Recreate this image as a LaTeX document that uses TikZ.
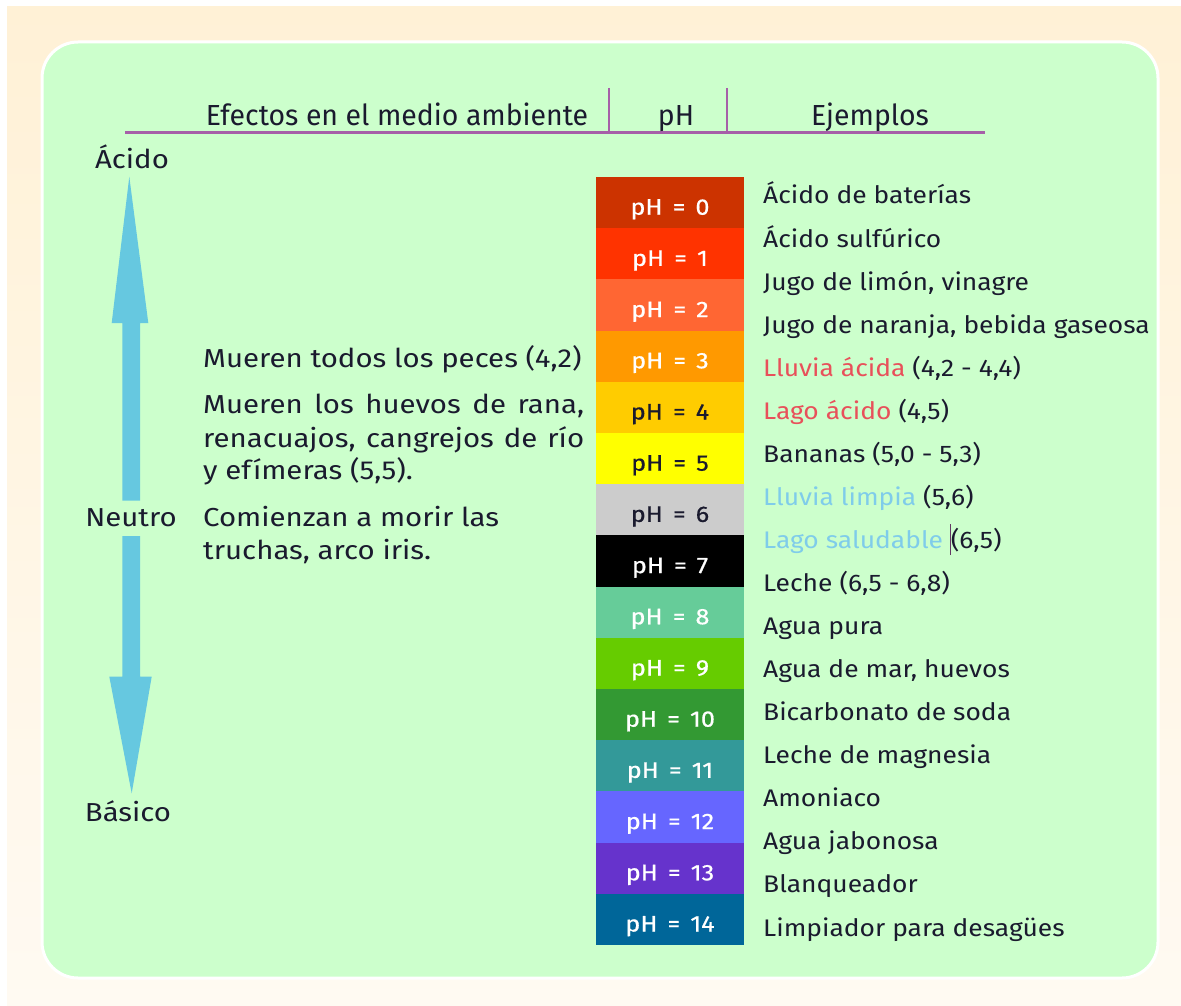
\documentclass[tikz,border=0pt]{standalone}
\usepackage{fontspec}
\setmainfont{Fira Sans}
\newfontfamily\headfont[FakeStretch=0.98]{Fira Sans}
\newfontfamily\exfont[FakeStretch=1.1]{Fira Sans}
\newfontfamily\leftfont[FakeStretch=1.13]{Fira Sans}
\newfontfamily\cellfont[FakeStretch=1.12,FakeBold=0.6]{Fira Sans}
\definecolor{cream}{HTML}{FFF1D6}
\definecolor{creamlow}{HTML}{FFFAF2}
\definecolor{panel}{HTML}{CCFFCC}
\definecolor{rulec}{HTML}{A65FA8}
\definecolor{arrowc}{HTML}{66C8E0}
\definecolor{ink}{HTML}{1A1A2E}
\definecolor{redtxt}{HTML}{E8505A}
\definecolor{bluetxt}{HTML}{7FCCEA}
\definecolor{c0}{HTML}{CC3300}
\definecolor{c1}{HTML}{FF3300}
\definecolor{c2}{HTML}{FF6633}
\definecolor{c3}{HTML}{FF9900}
\definecolor{c4}{HTML}{FFCC00}
\definecolor{c5}{HTML}{FFFF00}
\definecolor{c6}{HTML}{CCCCCC}
\definecolor{c7}{HTML}{000000}
\definecolor{c8}{HTML}{66CC99}
\definecolor{c9}{HTML}{66CC00}
\definecolor{c10}{HTML}{339933}
\definecolor{c11}{HTML}{339999}
\definecolor{c12}{HTML}{6666FF}
\definecolor{c13}{HTML}{6633CC}
\definecolor{c14}{HTML}{006699}
\newcommand{\phsp}{\hspace{0.45em}}
\begin{document}
\begin{tikzpicture}[x=1pt,y=-1pt,
  phcell/.style={minimum width=148pt,minimum height=51.4pt,inner sep=0pt},
  phtext/.style={anchor=base,inner sep=0pt,font=\cellfont\fontsize{22.5}{26}\selectfont},
  extext/.style={anchor=base west,inner sep=0pt,text=ink,font=\exfont\fontsize{24}{28}\selectfont},
  lefttext/.style={anchor=base west,inner sep=0pt,text=ink,font=\leftfont\fontsize{26}{30}\selectfont},
  sidelabel/.style={anchor=base,inner sep=0pt,text=ink,font=\leftfont\fontsize{26}{30}\selectfont},
  headtext/.style={anchor=base,inner sep=0pt,text=ink,font=\headfont\fontsize{29}{32}\selectfont},
  headrule/.style={draw=rulec,line width=3pt}]
\useasboundingbox (0,0) rectangle (1181,1006);
% background
\fill[white] (0,0) rectangle (1181,1006);
\shade[top color=cream,bottom color=creamlow] (7,7) rectangle (1181,1006);
\fill[panel,draw=white,line width=3pt,rounded corners=36pt] (42,42) rectangle (1158,978);
% header
\coordinate (hl) at (125,133);
\coordinate (hr) at (985,133);
\draw[headrule] (hl) -- (hr);
\coordinate (s1t) at (609,88);
\coordinate (s1b) at (609,133);
\coordinate (s2t) at (727,88);
\coordinate (s2b) at (727,133);
\draw[draw=rulec,line width=2.2pt] (s1t) -- (s1b);
\draw[draw=rulec,line width=2.2pt] (s2t) -- (s2b);
\node[headtext] (h1) at (397,126) {Efectos en el medio ambiente};
\node[headtext] (h2) at (676,126) {pH};
\node[headtext] (h3) at (870,126) {Ejemplos};
% side labels
\node[sidelabel] (acid) at (132,168) {Ácido};
\node[sidelabel] (neut) at (131,526) {Neutro};
\node[sidelabel] (basic) at (128,821) {Básico};
% double arrow
\fill[arrowc] (129.3,176.7) -- (148.3,323) -- (140,323) -- (140,500.7) -- (122.3,500.7) -- (122.3,323) -- (111.7,323) -- cycle;
\fill[arrowc] (122.3,536) -- (140,536) -- (140,676.7) -- (151.7,676.7) -- (131.7,793.3) -- (109.3,676.7) -- (122.3,676.7) -- cycle;
% left effects
\node[lefttext] (e1) at (203,367) {Mueren todos los peces (4,2)};
\node[lefttext] (e2) at (203,413) {\makebox[381pt][s]{Mueren los huevos de rana,}};
\node[lefttext] (e3) at (203,447) {\makebox[381pt][s]{renacuajos, cangrejos de río}};
\node[lefttext] (e4) at (203,479) {y efímeras (5,5).};
\node[lefttext] (e5) at (203,526) {Comienzan a morir las};
\node[lefttext] (e6) at (203,559) {truchas, arco iris.};
% pH scale
\foreach \i/\tc in {0/white,1/white,2/white,3/white,4/ink,5/ink,6/ink,7/white,8/white,9/white,10/white,11/white,12/white,13/white,14/white}{
  \node[phcell,fill=c\i] (ph\i) at (670,{202.7+51.2*\i}) {};
  \node[phtext,text=\tc] (pht\i) at ([yshift=-12pt]ph\i.center) {pH\phsp=\phsp\i};
}
% examples
\foreach \t [count=\i from 0] in {
  {Ácido de baterías},
  {Ácido sulfúrico},
  {Jugo de limón, vinagre},
  {Jugo de naranja, bebida gaseosa},
  {\textcolor{redtxt}{Lluvia ácida} (4,2 - 4,4)},
  {\textcolor{redtxt}{Lago ácido} (4,5)},
  {Bananas (5,0 - 5,3)},
  {\textcolor{bluetxt}{Lluvia limpia} (5,6)},
  {\textcolor{bluetxt}{Lago saludable} \textcolor{rulec!60!black}{\rule[-0.28em]{0.9pt}{1.3em}}(6,5)},
  {Leche (6,5 - 6,8)},
  {Agua pura},
  {Agua de mar, huevos},
  {Bicarbonato de soda},
  {Leche de magnesia},
  {Amoniaco},
  {Agua jabonosa},
  {Blanqueador},
  {Limpiador para desagües}}{
  \node[extext] (ex\i) at (763,{204+43.06*\i}) {\t};
}
\end{tikzpicture}
\end{document}
